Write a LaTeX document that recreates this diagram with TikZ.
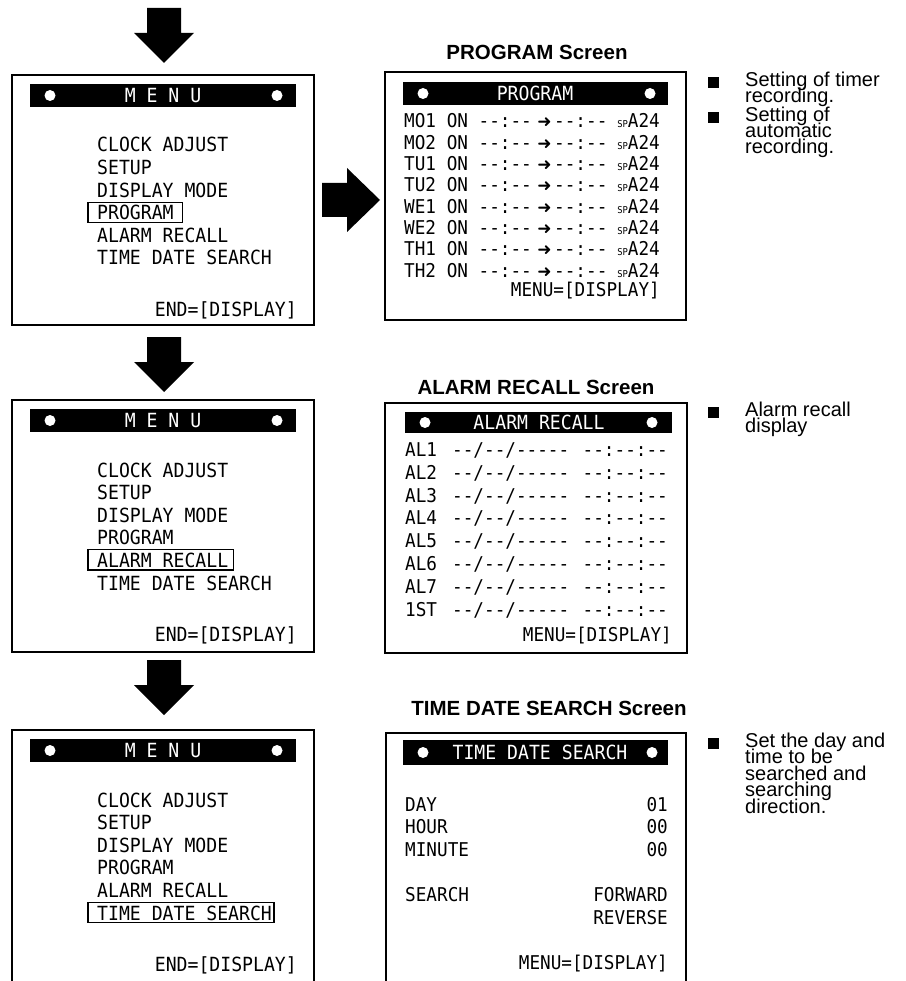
\documentclass[tikz,border=0pt]{standalone}
\usepackage{fontspec}
\setmainfont{Liberation Sans}
\newfontfamily\lcdfont{DejaVu Sans Mono}[Ligatures=TeXOff,FakeStretch=0.93]
\newfontfamily\symfont{DejaVu Sans}
\usepackage{tikz}

\begin{document}
\begin{tikzpicture}[x=1pt,y=-1pt,
    screen/.style={draw,line width=1.8pt},
    lcd/.style={inner sep=0pt,font=\lcdfont\fontsize{19.5}{20}\selectfont},
    lcdsm/.style={inner sep=0pt,font=\lcdfont\fontsize{19}{20}\selectfont},
    bartext/.style={lcd,text=white},
    bardot/.style={circle,fill=white,inner sep=0pt,minimum size=11pt},
    hilite/.style={draw,line width=1.2pt},
    heading/.style={inner sep=0pt,anchor=base,font=\bfseries\fontsize{20.5}{24}\selectfont},
    note/.style={inner sep=0pt,anchor=base west,font=\fontsize{20}{16}\selectfont},
    bullet/.style={fill,inner sep=0pt,minimum size=11pt}]
    \useasboundingbox (0,0) rectangle (905,981);
    \fill[white] (0,0) rectangle (905,981);

    \foreach \tip in {63,392,715}{
        \fill (147,{\tip-55}) -- (181,{\tip-55}) -- (181,{\tip-30}) -- (194,{\tip-30})
            -- (164,\tip) -- (134,{\tip-30}) -- (147,{\tip-30}) -- cycle;
    }
    \fill (322,183) -- (347,183) -- (347,168) -- (380,200) -- (347,232)
        -- (347,217) -- (322,217) -- cycle;

    \foreach \mn/\ytop/\ybot/\sel/\pad in {A/75/325/4/9,B/400/652/5/5,C/730/990/6/2}{
        \draw[screen] (12,\ytop) rectangle (314,\ybot);
        \fill (30,{\ytop+9}) rectangle (296,{\ytop+32});
        \node[bardot] (\mn-dl) at (50,{\ytop+20.5}) {};
        \node[bardot] (\mn-dr) at (277,{\ytop+20.5}) {};
        \node[bartext] (\mn-bar) at (163,{\ytop+20.5}) {M E N U};
        \foreach \item [count=\k] in {CLOCK ADJUST,SETUP,DISPLAY MODE,PROGRAM,ALARM RECALL,TIME DATE SEARCH}{
            \node[lcd,anchor=base west] (\mn\k) at (97,{\ytop+77+22.6*(\k-1)}) {\item};
        }
        \draw[hilite] ([xshift=-9pt,yshift=3pt]\mn\sel.north west)
            rectangle ([xshift=\pad pt,yshift=-2.5pt]\mn\sel.base east);
        \node[lcd,anchor=base east] (\mn-end) at (297,{\ytop+241}) {END=[DISPLAY]};
    }

    \node[heading] (ptitle) at (537,60) {PROGRAM Screen};
    \draw[screen] (385,72) rectangle (686,320);
    \fill (403,82) rectangle (668,105);
    \node[bardot] (pdl) at (423,93.5) {};
    \node[bardot] (pdr) at (650,93.5) {};
    \node[bartext] (pbar) at (535,93.5) {PROGRAM};
    \foreach \dy [count=\k] in {MO1,MO2,TU1,TU2,WE1,WE2,TH1,TH2}{
        \node[lcdsm,anchor=base west] (pd\k) at (404,{128+21.3*(\k-1)}) {\dy\ ON --:--};
        \node[inner sep=0pt,anchor=base,font=\symfont\fontsize{17}{17}\selectfont]
            (pa\k) at (544.5,{128+21.3*(\k-1)}) {➜};
        \node[lcdsm,anchor=base west] (pe\k) at (554,{128+21.3*(\k-1)}) {--:--};
        \node[lcdsm,anchor=base east] (pm\k) at (660,{128+21.3*(\k-1)})
            {{\fontsize{9.5}{9.5}\selectfont SP}A24};
    }
    \node[lcdsm,anchor=base east] (pmenu) at (660,296.5) {MENU=[DISPLAY]};

    \node[heading] (atitle) at (536,394) {ALARM RECALL Screen};
    \draw[screen] (385,403) rectangle (687,653);
    \fill (405,412) rectangle (672,433);
    \node[bardot] (adl) at (425,422.5) {};
    \node[bardot] (adr) at (652,422.5) {};
    \node[bartext] (abar) at (539,422.5) {ALARM RECALL};
    \foreach \al [count=\k] in {AL1,AL2,AL3,AL4,AL5,AL6,AL7,1ST}{
        \node[lcdsm,anchor=base west] (al\k) at (405,{456.5+22.8*(\k-1)}) {\al};
        \node[lcdsm,anchor=base west] (ad\k) at (452,{456.5+22.8*(\k-1)}) {--/--/-----};
        \node[lcdsm,anchor=base east] (at\k) at (668,{456.5+22.8*(\k-1)}) {--:--:--};
    }
    \node[lcdsm,anchor=base east] (amenu) at (672,641.5) {MENU=[DISPLAY]};

    \node[heading] (ttitle) at (549,715) {TIME DATE SEARCH Screen};
    \draw[screen] (386,733) rectangle (686,990);
    \fill (403,740) rectangle (668,765);
    \node[bardot] (tdl) at (423,752.5) {};
    \node[bardot] (tdr) at (652,752.5) {};
    \node[bartext] (tbar) at (540,752.5) {TIME DATE SEARCH};
    \foreach \lb/\vl/\yb [count=\k] in {DAY/01/811.5,HOUR/00/833.5,MINUTE/00/856.5,SEARCH/FORWARD/901.5}{
        \node[lcdsm,anchor=base west] (tl\k) at (405,\yb) {\lb};
        \node[lcdsm,anchor=base east] (tv\k) at (668,\yb) {\vl};
    }
    \node[lcdsm,anchor=base east] (trev) at (668,924.5) {REVERSE};
    \node[lcdsm,anchor=base east] (tmenu) at (668,969.5) {MENU=[DISPLAY]};

    \node[bullet] (pb1) at (713.5,83) {};
    \foreach \ln [count=\j] in {Setting of timer,recording.}{
        \node[note] (pn1-\j) at (745,{87+16*(\j-1)}) {\ln};
    }
    \node[bullet] (pb2) at (713.5,118) {};
    \foreach \ln [count=\j] in {Setting of,automatic,recording.}{
        \node[note] (pn2-\j) at (745,{122+16*(\j-1)}) {\ln};
    }
    \node[bullet] (ab1) at (713.5,412) {};
    \foreach \ln [count=\j] in {Alarm recall,display}{
        \node[note] (an1-\j) at (745,{416+16*(\j-1)}) {\ln};
    }
    \node[bullet] (tb1) at (713.5,743) {};
    \foreach \ln [count=\j] in {Set the day and,time to be,searched and,searching,direction.}{
        \node[note] (tn1-\j) at (745,{747+16.5*(\j-1)}) {\ln};
    }
\end{tikzpicture}
\end{document}
